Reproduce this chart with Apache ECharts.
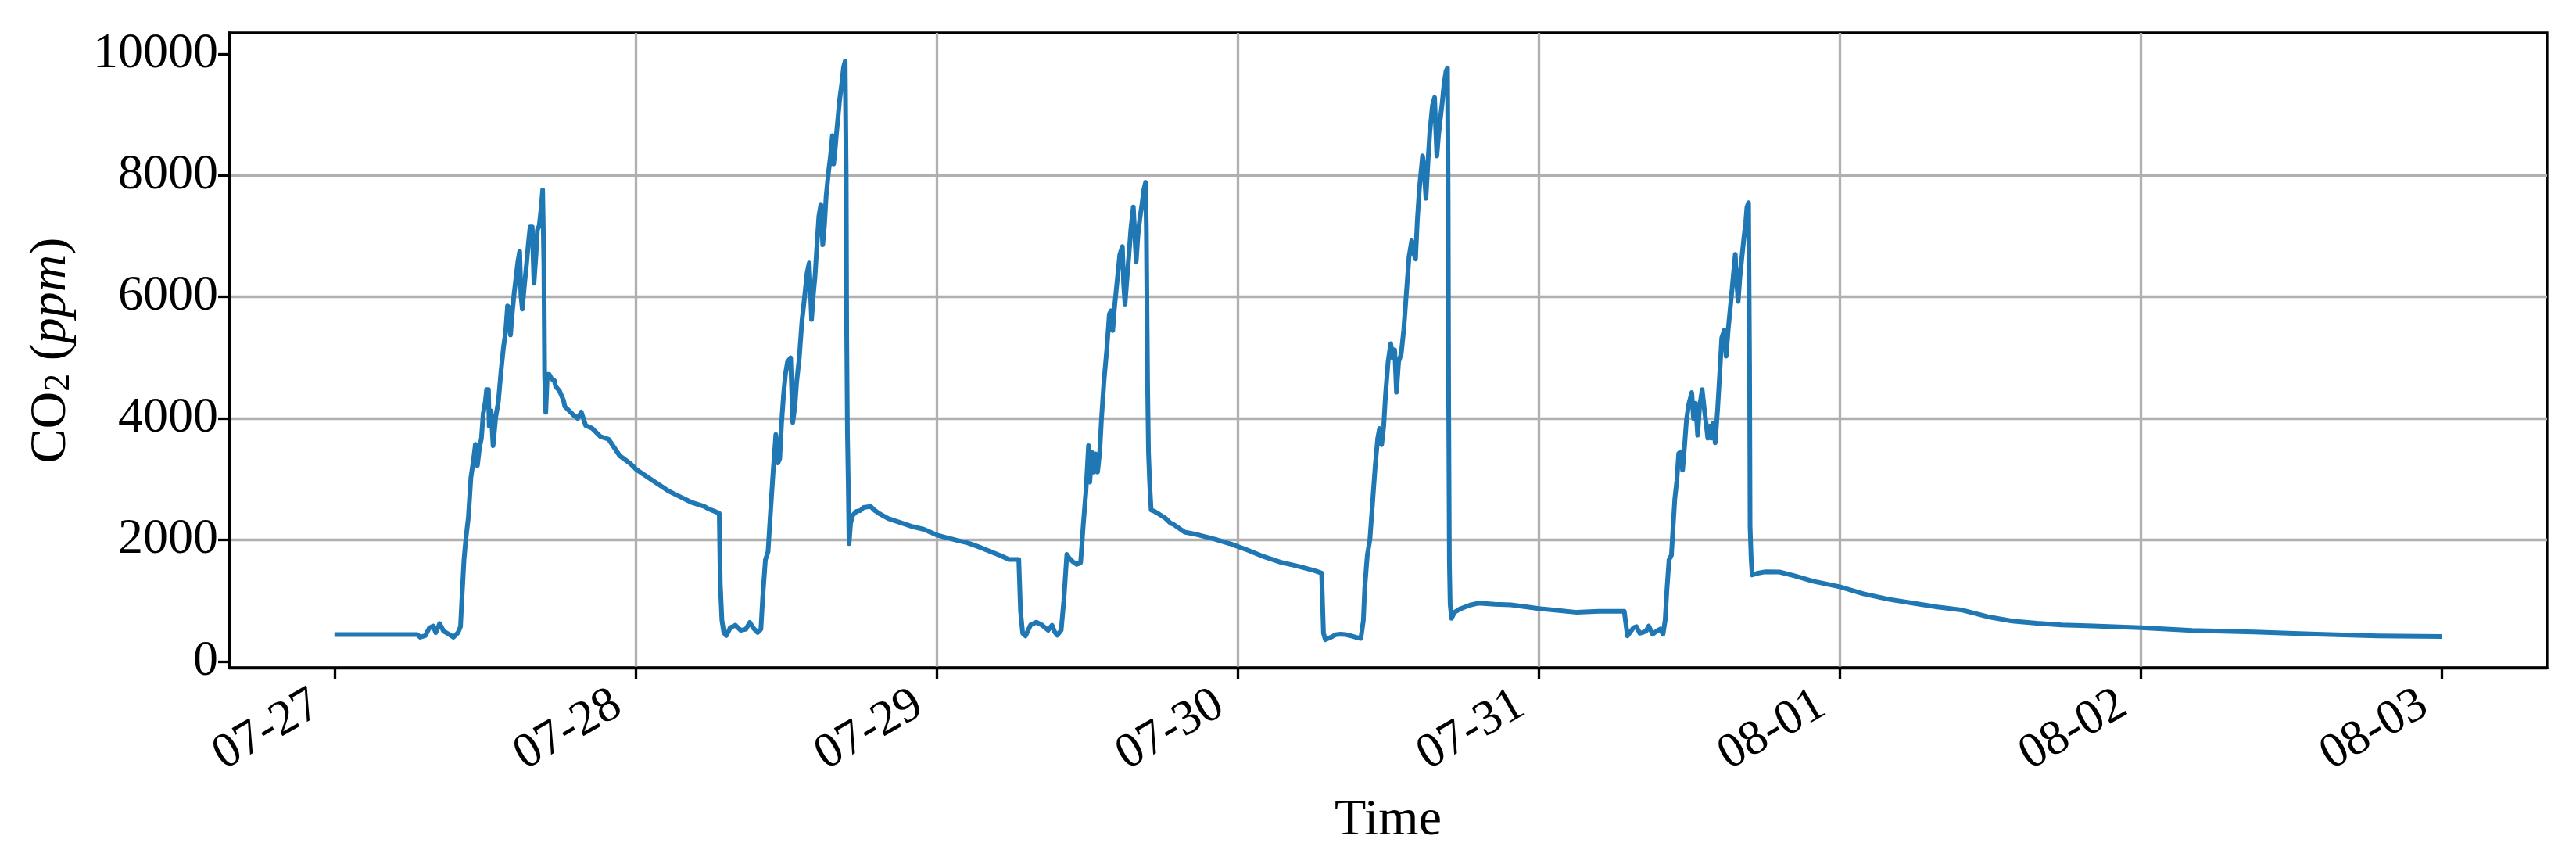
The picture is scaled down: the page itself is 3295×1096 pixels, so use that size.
<!DOCTYPE html>
<html>
<head>
<meta charset="utf-8">
<script src="https://cdn.jsdelivr.net/npm/echarts@6/dist/echarts.min.js"></script>
<style>
  html, body { margin: 0; padding: 0; background: #fff; }
  #chart { width: 3295px; height: 1096px; }
</style>
</head>
<body>
<div id="chart"></div>
<script>
// hours since 07-27 00:00
const hours = [
  0, 6.6, 6.83, 7.25, 7.56, 7.87, 8.08, 8.39, 8.70, 9.12, 9.49, 9.85, 10.05, 10.16, 10.33, 10.47,
  10.68, 10.88, 11.09, 11.24, 11.40, 11.57, 11.72, 11.86, 12.03, 12.13, 12.28, 12.34, 12.49, 12.65,
  12.86, 13.07, 13.28, 13.48, 13.65, 13.80, 13.94, 14.04, 14.15, 14.31, 14.48, 14.62, 14.77, 14.87,
  14.98, 15.14, 15.31, 15.46, 15.60, 15.77, 15.91, 16.08, 16.18, 16.33, 16.49, 16.60, 16.70, 16.76,
  16.85, 16.97, 17.12, 17.32, 17.53, 17.64, 17.95, 18.26, 18.37, 19.03, 19.4, 19.68, 20.03, 20.55,
  21.21, 21.86, 22.30, 22.74, 23.61, 24.05, 24.70, 25.35, 26.01, 26.66, 27.54, 28.41, 29.48, 29.89,
  30.31, 30.68, 30.76, 30.89, 31.04, 31.24, 31.56, 31.97, 32.39, 32.80, 33.11, 33.42, 33.74, 34.00,
  34.15, 34.36, 34.57, 34.77, 34.98, 35.19, 35.36, 35.50, 35.65, 35.81, 35.96, 36.12, 36.37, 36.54,
  36.71, 36.85, 37.06, 37.27, 37.48, 37.68, 37.85, 37.93, 38.04, 38.16, 38.31, 38.45, 38.62, 38.78,
  38.93, 39.07, 39.20, 39.39, 39.55, 39.70, 39.80, 39.93, 40.01, 40.13, 40.28, 40.45, 40.59, 40.72,
  40.80, 40.84, 40.90, 40.97, 41.03, 41.15, 41.32, 41.63, 41.94, 42.18, 42.75, 43.06, 43.5, 44.15,
  44.8, 45.46, 46.1, 47.0, 48.0, 48.74, 49.6, 50.5, 51.37, 52.24, 53.1, 53.78, 54.56, 54.7, 54.87,
  55.1, 55.5, 55.96, 56.4, 56.9, 57.21, 57.42, 57.63, 57.94, 58.15, 58.39, 58.56, 58.87, 59.18,
  59.49, 59.70, 59.91, 60.12, 60.22, 60.39, 60.53, 60.68, 60.84, 61.01, 61.15, 61.36, 61.57, 61.78,
  61.92, 62.05, 62.19, 62.40, 62.61, 62.82, 62.92, 63.03, 63.17, 63.34, 63.50, 63.69, 63.81, 63.92,
  64.06, 64.21, 64.37, 64.54, 64.67, 64.73, 64.79, 64.83, 64.90, 65.00, 65.11, 65.42, 65.84, 66.25,
  66.66, 66.87, 67.78, 68.87, 70.2, 71.5, 72.8, 74.1, 75.4, 76.75, 78.06, 78.7, 78.85, 79.0, 79.4,
  79.8, 80.2, 80.58, 80.99, 81.41, 81.83, 82.03, 82.14, 82.34, 82.55, 82.76, 82.97, 83.17, 83.32,
  83.49, 83.65, 83.80, 84.00, 84.21, 84.38, 84.53, 84.67, 84.84, 85.05, 85.25, 85.46, 85.67, 85.88,
  86.02, 86.19, 86.33, 86.50, 86.75, 86.87, 87.02, 87.19, 87.33, 87.54, 87.71, 87.81, 87.89, 88.02,
  88.16, 88.31, 88.47, 88.62, 88.74, 88.79, 88.83, 88.89, 88.95, 89.06, 89.30, 89.72, 90.14, 90.55,
  91.2, 92.5, 93.8, 95.1, 96.0, 97.3, 99.05, 100.8, 102.57, 102.83, 103.08, 103.57, 103.8, 104.06,
  104.26, 104.57, 104.78, 105.09, 105.40, 105.71, 105.92, 106.09, 106.23, 106.40, 106.59, 106.71,
  106.86, 107.02, 107.17, 107.33, 107.48, 107.63, 107.79, 107.96, 108.21, 108.35, 108.52, 108.68,
  108.83, 109.04, 109.20, 109.35, 109.49, 109.66, 109.77, 109.91, 110.08, 110.28, 110.45, 110.60,
  110.80, 110.95, 111.12, 111.33, 111.49, 111.68, 111.78, 111.91, 112.05, 112.22, 112.37, 112.51,
  112.61, 112.74, 112.78, 112.82, 112.86, 112.95, 113.03, 113.40, 114.03, 115.2, 116.4, 117.9, 120,
  121.9, 123.9, 125.8, 127.8, 129.8, 131.8, 133.76, 135.7, 137.7, 140.2, 144, 148.1, 153.05, 158,
  162.9, 168
]

// CO2 in ppm
const co2 = [
  445, 445, 400, 425, 550, 585, 475, 625, 500, 450, 400, 475, 575, 1025, 1675, 2000,
  2375, 3025, 3325, 3575, 3225, 3525, 3675, 4075, 4275, 4475, 4475, 3875, 4125, 3550,
  4025, 4275, 4775, 5175, 5425, 5850, 5825, 5375, 5675, 6025, 6325, 6575, 6750, 6025,
  5800, 6175, 6525, 6875, 7150, 7150, 6225, 6725, 7100, 7175, 7475, 7760, 6525, 4675,
  4100, 4725, 4725, 4650, 4625, 4525, 4450, 4300, 4196, 4061, 4000, 4106, 3882, 3837,
  3702, 3657, 3522, 3387, 3253, 3163, 3073, 2983, 2893, 2803, 2713, 2624, 2552, 2505,
  2472, 2439, 1276, 678, 478, 425, 558, 598, 512, 532, 645, 545, 478, 532,
  1076, 1675, 1807, 2472, 3136, 3735, 3269, 3336, 3934, 4399, 4731, 4931, 4997, 3934,
  4200, 4598, 4997, 5595, 5994, 6392, 6559, 6193, 5628, 5994, 6326, 6791, 7323, 7522,
  6858, 7190, 7655, 8054, 8320, 8652, 8187, 8453, 8652, 8918, 9250, 9516, 9781, 9881,
  7988, 5396, 3735, 2871, 1940, 2273, 2406, 2472, 2485, 2534, 2552, 2489, 2426, 2354,
  2309, 2264, 2219, 2174, 2084, 2040, 1995, 1950, 1887, 1815, 1743, 1680, 1680, 827, 467,
  422, 602, 647, 602, 515, 596, 488, 434, 515, 1003, 1762, 1707, 1642, 1599,
  1626, 2249, 2791, 3550, 2954, 3442, 3117, 3415, 3117, 3442, 3984, 4634, 5122, 5718,
  5772, 5447, 5827, 6260, 6694, 6829, 6206, 5881, 6260, 6694, 7127, 7480, 7019, 6585,
  7019, 7290, 7507, 7778, 7886, 7127, 5501, 4526, 3442, 2900, 2493, 2466, 2412, 2358,
  2276, 2260, 2129, 2084, 2013, 1932, 1833, 1725, 1635, 1572, 1500, 1456, 467, 359, 395,
  440, 449, 445, 425, 399, 379, 678, 1209, 1741, 2007, 2605, 3203, 3668, 3834,
  3568, 3867, 4399, 4931, 5230, 4997, 5130, 4432, 4931, 5064, 5462, 6060, 6658, 6924,
  6725, 6625, 7256, 7788, 8320, 8121, 7622, 8253, 8718, 9150, 9283, 8718, 8320, 8652,
  8918, 9184, 9516, 9715, 9768, 7589, 4266, 1608, 944, 711, 811, 864, 897, 930,
  961, 943, 934, 898, 872, 845, 809, 827, 827, 827, 422, 557, 575, 467,
  475, 500, 585, 450, 500, 535, 450, 675, 1175, 1675, 1750, 2175,
  2675, 2975, 3425, 3450, 3150, 3525, 3975, 4225, 4425, 4000, 4250, 3725,
  4175, 4475, 4175, 3925, 3675, 3875, 3675, 3925, 3600, 4175, 4775, 5325,
  5450, 5025, 5475, 5925, 6275, 6700, 6275, 5925, 6325, 6675, 6975, 7225,
  7475, 7550, 6175, 4875, 2225, 1675, 1425, 1450, 1475, 1473, 1411, 1321, 1231,
  1114, 1024, 961, 898, 845, 737, 665, 629, 602, 584, 557, 512, 485, 449,
  422, 413
]

const dayLabels = ['07-27', '07-28', '07-29', '07-30', '07-31', '08-01', '08-02', '08-03']
const dayTicks = [0, 1, 2, 3, 4, 5, 6, 7]
const ppmTicks = [0, 2000, 4000, 6000, 8000, 10000]

const FONT = 'Liberation Serif'

const chart = echarts.init(document.getElementById('chart'), null, { renderer: 'canvas' })

const points = hours.map((h, i) => [h / 24, co2[i]])

chart.setOption({
  animation: false,
  backgroundColor: '#fff',
  grid: {
    left: 293,
    right: 37,
    top: 42,
    bottom: 242,
    show: true,
    borderColor: '#000',
    borderWidth: 3.3,
    backgroundColor: 'transparent',
  },
  xAxis: {
    type: 'value',
    min: -0.35,
    max: 7.35,
    name: 'Time',
    nameLocation: 'middle',
    nameGap: 163,
    nameTextStyle: { fontFamily: FONT, fontSize: 66, color: '#000' },
    axisLine: { show: true, onZero: false, lineStyle: { color: '#000', width: 3.3 } },
    axisTick: { show: true, length: 14, customValues: dayTicks, lineStyle: { color: '#000', width: 3.3 } },
    axisLabel: {
      customValues: dayTicks,
      rotate: 30,
      margin: 30,
      padding: [0, 26, 0, 0],
      fontFamily: FONT,
      fontSize: 63,
      color: '#000',
      formatter: (v) => dayLabels[Math.round(v)] || '',
    },
    splitLine: { show: true, showMinLine: false, showMaxLine: false, lineStyle: { color: '#b0b0b0', width: 3.3 } },
  },
  yAxis: {
    type: 'value',
    min: -103,
    max: 10345,
    name: '{n|CO}{s|2}{n| (}{i|ppm}{n|)}',
    nameLocation: 'middle',
    nameRotate: 90,
    nameGap: 194,
    nameTextStyle: {
      fontFamily: FONT,
      fontSize: 66,
      color: '#000',
      rich: {
        n: { fontFamily: FONT, fontSize: 66, lineHeight: 66, color: '#000' },
        s: { fontFamily: FONT, fontSize: 46, lineHeight: 30, verticalAlign: 'bottom', color: '#000' },
        i: { fontFamily: FONT, fontSize: 66, lineHeight: 66, fontStyle: 'italic', color: '#000' },
      },
    },
    axisLine: { show: true, onZero: false, lineStyle: { color: '#000', width: 3.3 } },
    axisTick: { show: true, length: 14, customValues: ppmTicks, lineStyle: { color: '#000', width: 3.3 } },
    axisLabel: {
      customValues: ppmTicks,
      margin: 14,
      fontFamily: FONT,
      fontSize: 64,
      color: '#000',
      formatter: (v) => String(v),
    },
    splitLine: { show: true, showMinLine: false, showMaxLine: false, lineStyle: { color: '#b0b0b0', width: 3.3 } },
  },
  series: [
    {
      type: 'line',
      data: points,
      showSymbol: false,
      clip: true,
      lineStyle: { color: '#1f77b4', width: 6, join: 'round', cap: 'butt' },
    },
  ],
})
</script>
</body>
</html>
